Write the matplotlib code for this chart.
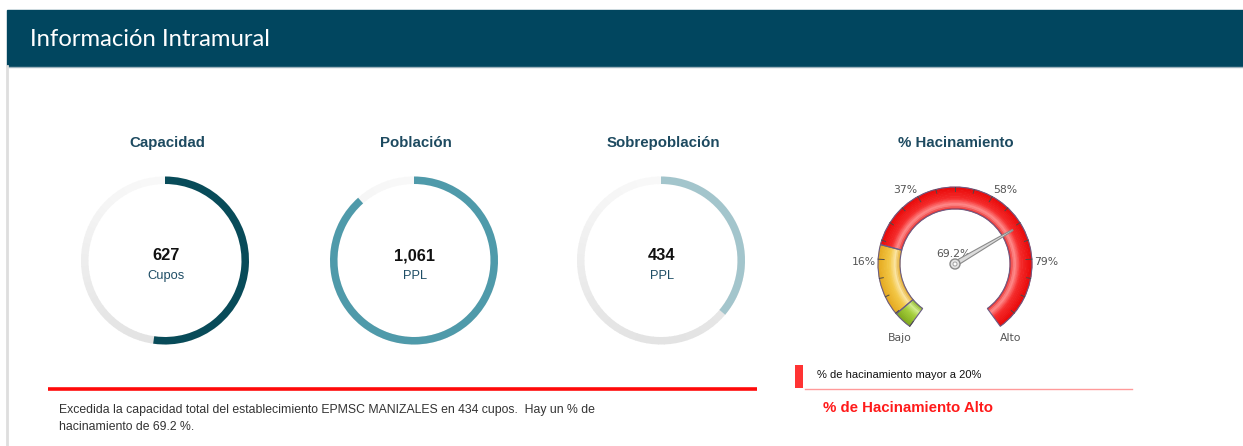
import numpy as np
import matplotlib.pyplot as plt
from matplotlib.patches import Wedge, Rectangle, Circle, Polygon
from matplotlib.colors import to_rgb

# data
donut_titles = ["Capacidad", "Población", "Sobrepoblación"]
donut_values = [627, 1061, 434]
donut_units = ["Cupos", "PPL", "PPL"]
donut_colors = ["#084b59", "#4f9aaa", "#a3c5cc"]
donut_max = 1200

gauge_title = "% Hacinamiento"
gauge_value = 69.2
gauge_min, gauge_max = -5, 100
gauge_ticks = [16, 37, 58, 79]
gauge_bands = [(-5, 0), (0, 20), (20, 100)]
gauge_end_labels = ["Bajo", "Alto"]

establecimiento = "EPMSC MANIZALES"

W, H = 1243, 446
fig = plt.figure(figsize=(W / 100, H / 100), dpi=100)
ax = fig.add_axes([0, 0, 1, 1])
ax.set_xlim(0, W)
ax.set_ylim(H, 0)
ax.axis("off")


def wedge(c, r, a1, a2, width, **kw):
    # angles counter-clockwise on screen, y axis is inverted
    return Wedge(c, r, -a2, -a1, width=width, **kw)


def lerp(c1, c2, t):
    c1, c2 = np.array(to_rgb(c1)), np.array(to_rgb(c2))
    return tuple(c1 + (c2 - c1) * t)


def grad(stops, t):
    for (t0, c0), (t1, c1) in zip(stops[:-1], stops[1:]):
        if t <= t1:
            return lerp(c0, c1, (t - t0) / (t1 - t0))
    return to_rgb(stops[-1][1])


# header
ax.add_patch(Rectangle((7, 10), W - 7, 56, color="#01465f", zorder=1))
ax.plot([7, W], [66.5, 66.5], color="#9fb3bd", lw=1, zorder=2)
ax.plot([7.5, 7.5], [66, H], color="#dedede", lw=2, zorder=2)
ax.text(30, 39, "Información Intramural", color="white", fontsize=17.2,
        family="Lato", va="center", ha="left")

# donuts
centers = [165, 414, 661]
cy, R, ring = 260.5, 84, 7.5
for cx, title, val, unit, col in zip(centers, donut_titles, donut_values,
                                     donut_units, donut_colors):
    n = 90
    for i in range(n):
        a1 = i * 360 / n
        a2 = a1 + 360 / n + 0.5
        t = (1 - np.sin(np.radians(a1 + 180 / n))) / 2
        c = lerp("#f8f8f8", "#e3e3e3", t)
        ax.add_patch(wedge((cx, cy), R, a1, a2, ring, color=c, lw=0))
    frac = val / donut_max
    ax.add_patch(wedge((cx, cy), R, 90 - frac * 360, 90, ring, color=col, lw=0))
    ax.text(cx + 2, 143, title, ha="center", va="center", fontsize=10.8,
            fontweight="bold", color="#1d4a60", family="Liberation Sans")
    ax.text(cx + 1, 256, f"{val:,}", ha="center", va="center", fontsize=11.8,
            fontweight="bold", color="#111111", family="Liberation Sans")
    ax.text(cx + 1, 276, unit, ha="center", va="center", fontsize=9.3,
            color="#1f4e66", family="Liberation Sans")

# gauge
gx, gy = 955, 264
gR, gw = 77, 22
a_start, a_end = 234, -54


def ang(v):
    return a_start - (v - gauge_min) / (gauge_max - gauge_min) * (a_start - a_end)


band_stops = [
    [(0, "#86b022"), (0.25, "#d2ec8c"), (0.5, "#a5cf3c"), (1, "#7fa81c")],
    [(0, "#e0a520"), (0.25, "#fbe4a0"), (0.5, "#f3c745"), (1, "#e5a91f")],
    [(0, "#e52020"), (0.22, "#ff9090"), (0.5, "#f52a2a"), (1, "#e80808")],
]
for (b0, b1), stops in zip(gauge_bands, band_stops):
    m = 14
    for k in range(m):
        r_out = gR - gw + gw * (k + 1) / m
        c = grad(stops, (k + 0.5) / m)
        ax.add_patch(wedge((gx, gy), r_out + 0.3, ang(b1), ang(b0), gw / m + 0.6,
                           color=c, lw=0, zorder=3))
    ax.add_patch(wedge((gx, gy), gR, ang(b1), ang(b0), gw, fill=False,
                       edgecolor="#6b5d86", lw=0.8, zorder=4))

# ticks
major = [gauge_min] + gauge_ticks + [gauge_max]
for i in range(len(major) - 1):
    for j, v in enumerate(np.linspace(major[i], major[i + 1], 5)[:-1]):
        a = np.radians(ang(v))
        L = 6 if j == 0 else 4
        ax.plot([gx + gR * np.cos(a), gx + (gR - L) * np.cos(a)],
                [gy - gR * np.sin(a), gy - (gR - L) * np.sin(a)],
                color="#4a4a4a", lw=0.7, zorder=5)

for v in gauge_ticks:
    a = np.radians(ang(v))
    ax.text(gx + (gR + 2) * np.cos(a), gy - (gR + 12) * np.sin(a) + 4, f"{v}%",
            ha="right" if np.cos(a) < 0 else "left", va="center", fontsize=7.8,
            color="#555555", family="DejaVu Sans")
for v, lab in zip([gauge_min, gauge_max], gauge_end_labels):
    a = np.radians(ang(v))
    ax.text(gx + 94 * np.cos(a), gy - 92 * np.sin(a), lab, ha="center",
            va="center", fontsize=7.8, color="#555555", family="DejaVu Sans")

ax.text(953, 254, f"{gauge_value}%", ha="center", va="center", fontsize=7.8,
        color="#555555", family="DejaVu Sans", zorder=6)

a = np.radians(ang(gauge_value))
d = np.array([np.cos(a), -np.sin(a)])
p = np.array([-d[1], d[0]])
base = np.array([gx, gy])
needle = [base + p * 2.5, base + d * 67 + p * 0.6, base + d * 67 - p * 0.6,
          base - p * 2.5]
ax.add_patch(Polygon(needle, closed=True, facecolor="#dcdcdc",
                     edgecolor="#8a8a8a", lw=0.8, zorder=7))
ax.add_patch(Circle((gx, gy), 5, facecolor="#e4e4e4", edgecolor="#8a8a8a",
                    lw=1, zorder=8))
ax.add_patch(Circle((gx, gy), 2, facecolor="white", edgecolor="#999999",
                    lw=0.6, zorder=9))
ax.text(gx + 1, 143, gauge_title, ha="center", va="center", fontsize=10.8,
        fontweight="bold", color="#1d4a60", family="Liberation Sans")

# bottom left
ax.plot([48, 757], [389, 389], color="#ff0a0a", lw=2.6, solid_capstyle="butt")
excess = donut_values[1] - donut_values[0]
ax.text(59, 410, f"Excedida la capacidad total del establecimiento {establecimiento} "
        f"en {excess} cupos.  Hay un % de", ha="left", va="center", fontsize=8.8,
        color="#333333", family="Liberation Sans")
ax.text(59, 427, f"hacinamiento de {gauge_value} %.", ha="left", va="center",
        fontsize=8.8, color="#333333", family="Liberation Sans")

# bottom right
ax.add_patch(Rectangle((795, 365), 8, 23, color="#ff3333", lw=0))
ax.plot([805, 1132], [388.5, 388.5], color="#ff9a9a", lw=1)
ax.text(817, 375, "% de hacinamiento mayor a 20%", ha="left", va="center",
        fontsize=8, color="#111111", family="Liberation Sans")
ax.text(823, 408, "% de Hacinamiento Alto", ha="left", va="center",
        fontsize=10.8, fontweight="bold", color="#ff1a1a", family="Liberation Sans")

fig.savefig("out.png", dpi=100)
